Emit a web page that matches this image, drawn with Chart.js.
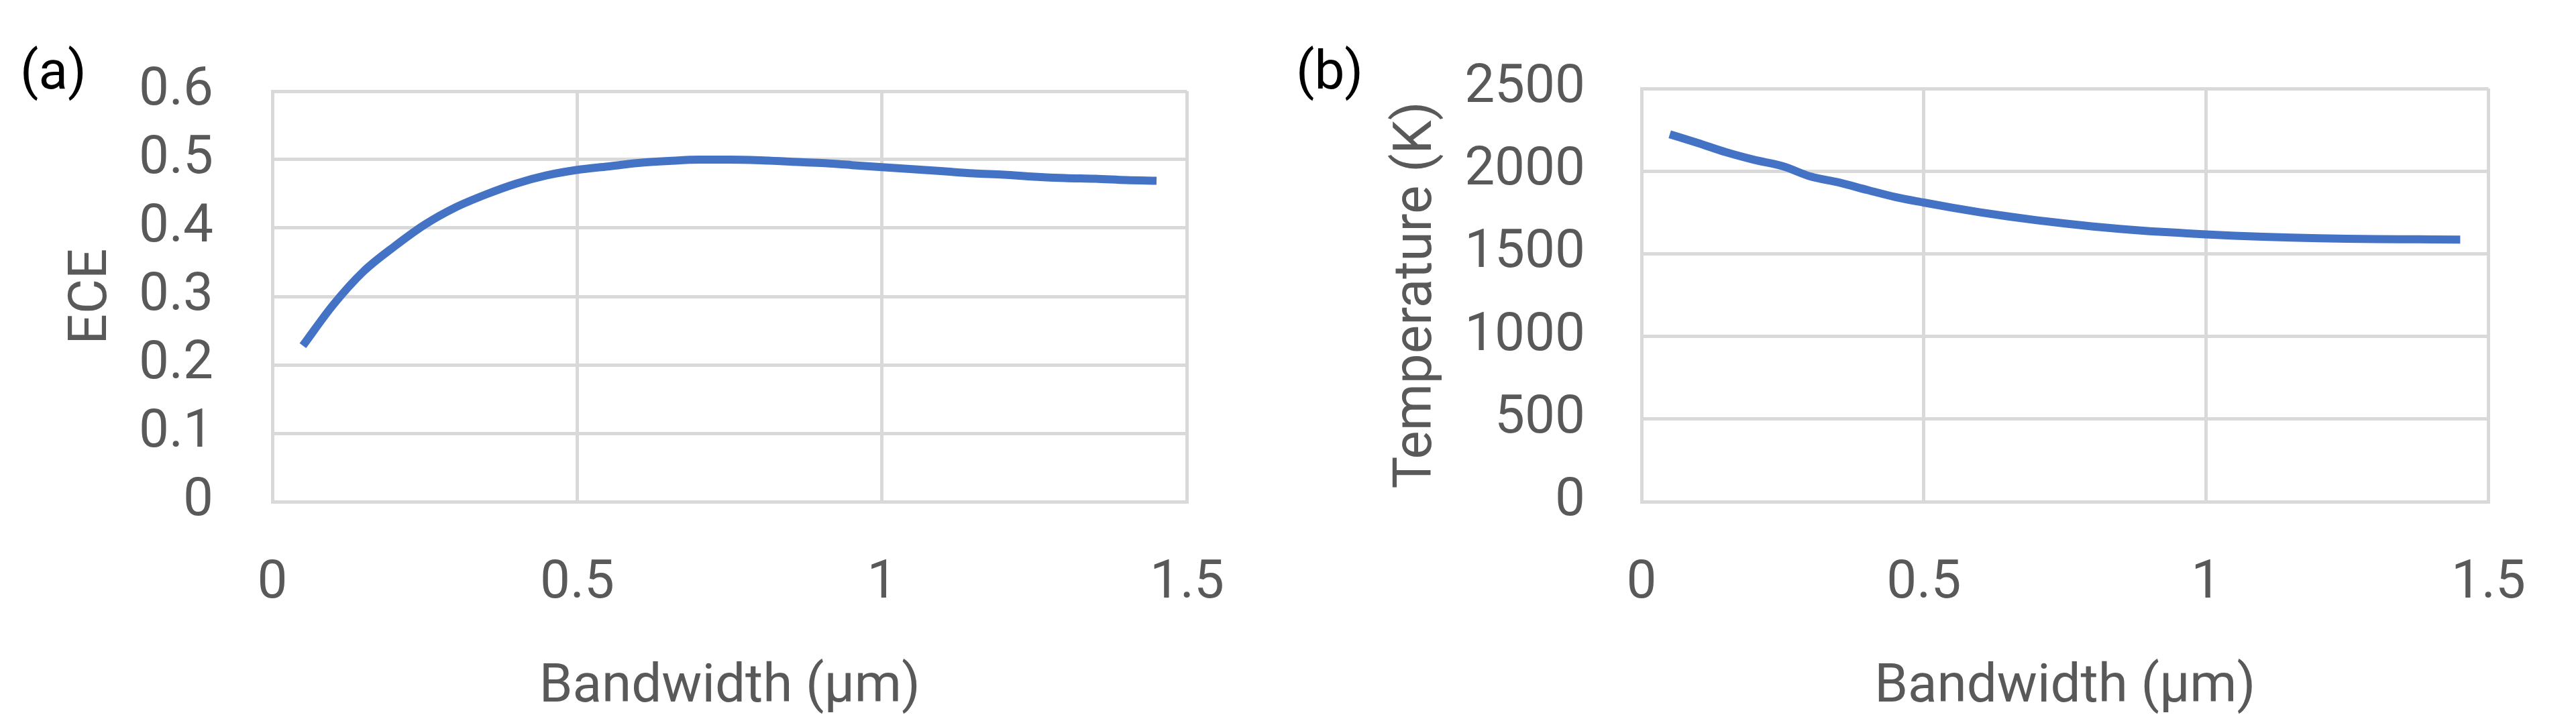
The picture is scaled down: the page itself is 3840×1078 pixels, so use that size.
<!DOCTYPE html>
<html>
<head>
<meta charset="utf-8">
<script src="https://cdn.jsdelivr.net/npm/chart.js@4"></script>
<style>
  body { margin:0; background:#fff; width:3840px; height:1078px; position:relative; overflow:hidden; font-family:Roboto, sans-serif; }
  .box { position:absolute; top:0; height:1078px; }
  .tag { position:absolute; font-size:80px; color:#000; font-family:Roboto, sans-serif; }
</style>
</head>
<body>
<div class="box" style="left:0;width:1900px;"><canvas id="chartA"></canvas></div>
<div class="box" style="left:1900px;width:1940px;"><canvas id="chartB"></canvas></div>
<div class="tag" style="left:30px;top:58px;">(a)</div>
<div class="tag" style="left:1932px;top:58px;">(b)</div>
<script>
// ── Dati ──────────────────────────────────────
const bandwidth = [0.05,0.1,0.15,0.2,0.25,0.3,0.35,0.4,0.45,0.5,0.55,0.6,0.65,0.7,0.75,
                   0.8,0.85,0.9,0.95,1.0,1.05,1.1,1.15,1.2,1.25,1.3,1.35,1.4,1.45];
const ece = [0.228,0.288,0.337,0.373,0.405,0.430,0.449,0.465,0.477,0.485,0.490,0.495,0.498,0.500,0.500,
             0.499,0.497,0.495,0.492,0.489,0.486,0.483,0.480,0.478,0.475,0.473,0.472,0.470,0.469];
const temperature = [2223,2170,2114,2068,2030,1967,1931,1886,1843,1810,1779,1751,1726,1703,1683,
                     1665,1650,1637,1627,1617,1609,1603,1598,1594,1591,1589,1588,1587,1586];
const xTicks = [0, 0.5, 1, 1.5];
const eceTicks = [0,0.1,0.2,0.3,0.4,0.5,0.6];
const tempTicks = [0,500,1000,1500,2000,2500];

const TXT = '#595959', GRID = '#d9d9d9', LINE = '#4472C4';
const FONT = { family:'Roboto, sans-serif', size:80 };

function makeChart(id, values, yTicks, yMax, yTitle, yWidth, rightPad, yPad, titlePad) {
    const ctx = document.getElementById(id).getContext('2d');
    return new Chart(ctx, {
        type: 'line',
        data: { datasets: [{
            data: bandwidth.map((x, i) => ({ x, y: values[i] })),
            borderColor: LINE, borderWidth: 12, pointRadius: 0,
            tension: 0.4, cubicInterpolationMode: 'monotone', fill: false
        }]},
        options: {
            responsive: true, maintainAspectRatio: false, animation: false, devicePixelRatio: 1,
            layout: { padding: { top: 68, right: rightPad, left: 0, bottom: 0 } },
            plugins: { legend: { display:false }, tooltip: { enabled:false } },
            scales: {
                x: {
                    type: 'linear', min: 0, max: 1.5,
                    afterBuildTicks: a => { a.ticks = xTicks.map(v => ({ value:v })); },
                    afterFit: a => { a.height = 330; },
                    grid: { color: GRID, lineWidth: 5, drawTicks: false },
                    border: { color: GRID, width: 5 },
                    ticks: { color: TXT, font: FONT, padding: 75, maxRotation: 0, callback: v => String(v) },
                    title: { display: true, text: 'Bandwidth (µm)', color: TXT, font: FONT, padding: { top: 35 } }
                },
                y: {
                    min: 0, max: yMax,
                    afterBuildTicks: a => { a.ticks = yTicks.map(v => ({ value:v })); },
                    afterFit: a => { a.width = yWidth; },
                    grid: { color: GRID, lineWidth: 5, drawTicks: false },
                    border: { color: GRID, width: 5 },
                    ticks: { color: TXT, font: FONT, padding: yPad, callback: v => String(v) },
                    title: { display: true, text: yTitle, color: TXT, font: FONT, padding: titlePad }
                }
            }
        }
    });
}

makeChart('chartA', ece, eceTicks, 0.6, 'ECE', 406, 103, 88, { top: 90 });
makeChart('chartB', temperature, tempTicks, 2500, 'Temperature (K)', 547, 72, 84, { top: 165 });
</script>
</body>
</html>
